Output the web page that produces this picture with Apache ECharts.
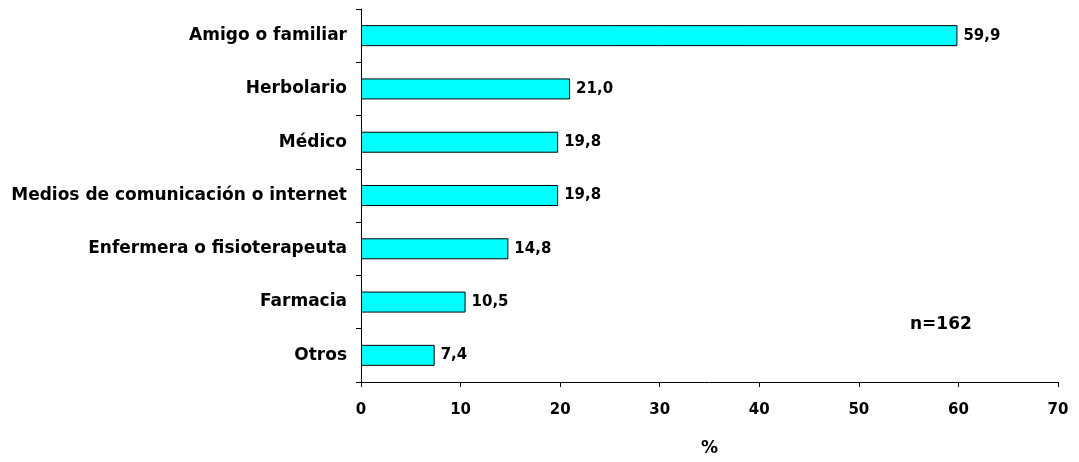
<!DOCTYPE html>
<html>
<head>
<meta charset="utf-8">
<script src="https://cdn.jsdelivr.net/npm/echarts@6/dist/echarts.min.js"></script>
<style>html,body{margin:0;padding:0;background:#fff;}#c{width:1079px;height:462px;}</style>
</head>
<body>
<div id="c"></div>
<script>
const categories = ["Amigo o familiar","Herbolario","Médico","Medios de comunicación o internet","Enfermera o fisioterapeuta","Farmacia","Otros"];
const values = [59.9, 21.0, 19.8, 19.8, 14.8, 10.5, 7.4];
const xTicks = [0,10,20,30,40,50,60,70];
const note = "n=162";
const font = "'DejaVu Sans', sans-serif";

const chart = echarts.init(document.getElementById('c'));
chart.setOption({
  animation: false,
  backgroundColor: '#fff',
  grid: {left: 361, right: 21, top: 9, bottom: 80, containLabel: false},
  xAxis: {
    type: 'value', min: xTicks[0], max: xTicks[xTicks.length-1], interval: 10,
    name: '%', nameLocation: 'middle', nameGap: 58,
    nameTextStyle: {fontFamily: font, fontWeight: 'bold', fontSize: 17, color: '#000'},
    axisLine: {show: true, lineStyle: {color: '#000', width: 1}},
    axisTick: {show: true, length: 5, lineStyle: {color: '#000'}},
    axisLabel: {margin: 21, fontFamily: font, fontWeight: 'bold', fontSize: 15, color: '#000'},
    splitLine: {show: false}
  },
  yAxis: {
    type: 'category', data: categories, inverse: true,
    axisLine: {show: true, lineStyle: {color: '#000', width: 1}},
    axisTick: {show: true, length: 5, lineStyle: {color: '#000'}},
    axisLabel: {margin: 14, fontFamily: font, fontWeight: 'bold', fontSize: 17, color: '#000'}
  },
  series: [{
    type: 'bar', data: values, barWidth: 21,
    itemStyle: {color: '#00FFFF', borderColor: '#000', borderWidth: 1},
    label: {show: true, position: 'right', distance: 6,
      formatter: p => p.value.toFixed(1).replace('.', ','),
      fontFamily: font, fontWeight: 'bold', fontSize: 15, color: '#000'}
  }],
  graphic: [{
    type: 'text', left: 910, top: 316,
    style: {text: note, fontFamily: font, fontWeight: 'bold', fontSize: 17, fill: '#000'}
  }]
});
</script>
</body>
</html>
